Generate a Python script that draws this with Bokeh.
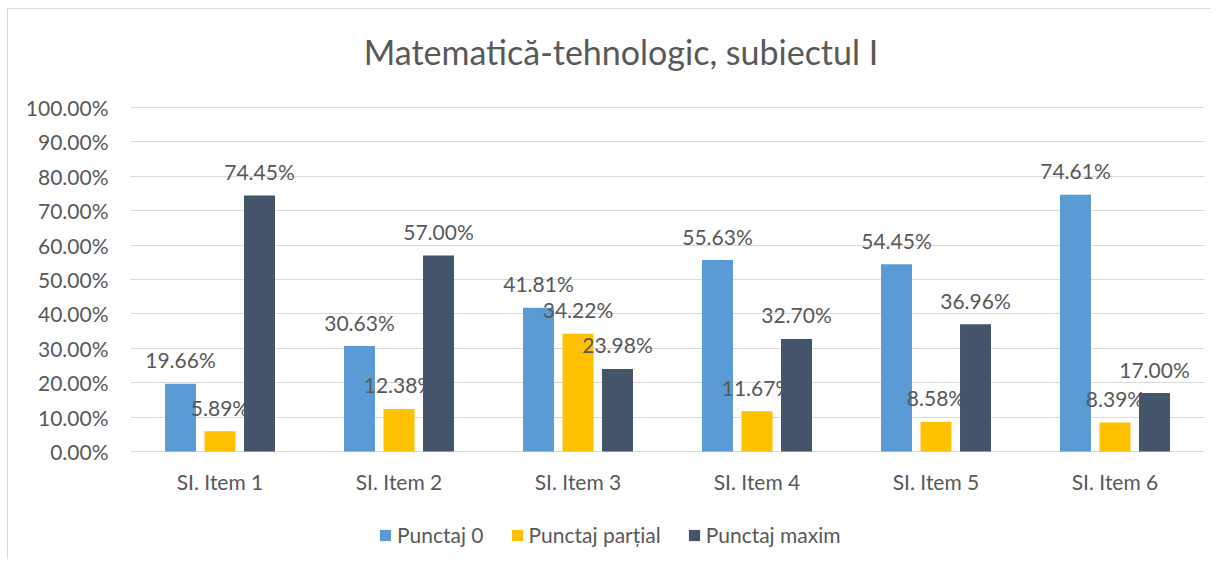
from bokeh.plotting import figure
from bokeh.models import (ColumnDataSource, FactorRange, Range1d, PrintfTickFormatter,
                          Legend, LegendItem, Label, FixedTicker)
from bokeh.transform import dodge
from bokeh.core.properties import value
from bokeh.embed import file_html
from bokeh.resources import INLINE

title_text = "Matematică-tehnologic, subiectul I"
categories = ["SI. Item 1", "SI. Item 2", "SI. Item 3", "SI. Item 4", "SI. Item 5", "SI. Item 6"]
series_names = ["Punctaj 0", "Punctaj parțial", "Punctaj maxim"]
punctaj_0 = [19.66, 30.63, 41.81, 55.63, 54.45, 74.61]
punctaj_partial = [5.89, 12.38, 34.22, 11.67, 8.58, 8.39]
punctaj_maxim = [74.45, 57.00, 23.98, 32.70, 36.96, 17.00]
y_ticks = [0, 10, 20, 30, 40, 50, 60, 70, 80, 90, 100]
colors = ["#5B9BD5", "#FFC000", "#44546A"]

FONT = "Lato"
TXT = "#595959"
GRID = "#D9D9D9"

series_values = [punctaj_0, punctaj_partial, punctaj_maxim]

# The frame covers the full canvas height (title, category names and legend live inside it);
# 100% sits at y=107px and 0% at y=451px.
Y_TOP = 131.1
Y_BOTTOM = -31.4

p = figure(width=1210, height=559, x_range=FactorRange(*categories),
           y_range=Range1d(Y_BOTTOM, Y_TOP), x_axis_location=None,
           output_backend="svg", toolbar_location=None,
           min_border_left=130, min_border_right=6, min_border_top=0, min_border_bottom=0)
p.styles = {"background": "linear-gradient(#D9D9D9,#D9D9D9) 7px 8px / 1px 100% no-repeat, "
                          "linear-gradient(#D9D9D9,#D9D9D9) 7px 8px / 100% 1px no-repeat, white"}
p.outline_line_color = None
p.background_fill_color = None
p.border_fill_color = None

p.xgrid.grid_line_color = None
p.ygrid.grid_line_color = GRID
p.ygrid.ticker = FixedTicker(ticks=y_ticks)

p.yaxis.ticker = FixedTicker(ticks=y_ticks)
p.yaxis.formatter = PrintfTickFormatter(format="%.2f%%")
p.yaxis.axis_line_color = None
p.yaxis.major_tick_line_color = None
p.yaxis.minor_tick_line_color = None
p.yaxis.major_tick_in = 0
p.yaxis.major_tick_out = 0
p.yaxis.major_label_standoff = 22
p.yaxis.major_label_text_font = FONT
p.yaxis.major_label_text_font_size = "21px"
p.yaxis.major_label_text_color = TXT

# category names under the 0% line
p.text(x=categories, y=[0] * len(categories), text=categories,
       text_align="center", text_baseline="middle", y_offset=30,
       text_font=value(FONT), text_font_size=value("21px"), text_color=TXT)

bar_w = 0.173
step = 0.2207
offsets = [-step, 0.0, step]

items = []
for name, vals, col, off in zip(series_names, series_values, colors, offsets):
    src = ColumnDataSource(dict(cat=categories, val=vals,
                                lbl=["%.2f%%" % v for v in vals]))
    r = p.vbar(x=dodge("cat", off, range=p.x_range), top="val", width=bar_w, bottom=0,
               source=src, fill_color=col, line_color=None)
    p.text(x=dodge("cat", off, range=p.x_range), y="val", text="lbl", source=src,
           text_align="center", text_baseline="middle", y_offset=-24,
           text_font=value(FONT), text_font_size=value("21px"), text_color=TXT)
    items.append(LegendItem(label=name, renderers=[r]))

legend = Legend(items=items, orientation="horizontal", location=(248, 12),
                glyph_width=14, glyph_height=14, label_standoff=5, spacing=26,
                padding=0, margin=0, border_line_color=None, background_fill_alpha=0,
                label_text_font=FONT, label_text_font_size="21px", label_text_color=TXT)
p.add_layout(legend, "center")

title = Label(x=2.740, y=116.3, text=title_text, text_align="center", text_baseline="middle",
              text_font=FONT, text_font_size="34px", text_color=TXT)
p.add_layout(title)

open("out.html", "w").write(file_html(p, INLINE))
